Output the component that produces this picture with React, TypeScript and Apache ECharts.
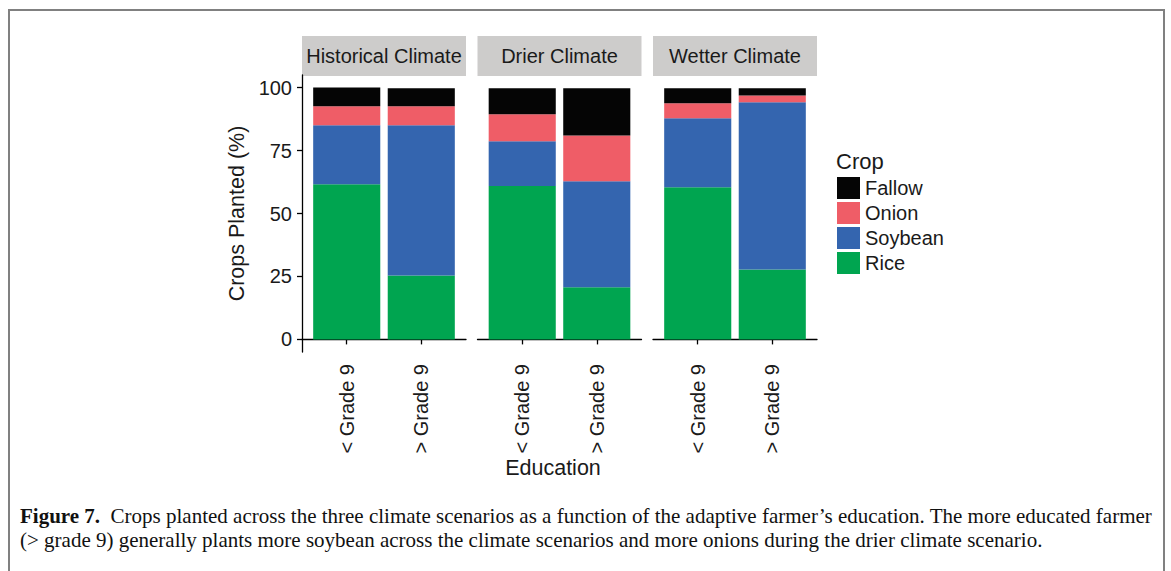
import React, { useEffect, useRef } from "react";
import * as echarts from "echarts";

// ---- data ----
const climates = ["Historical Climate", "Drier Climate", "Wetter Climate"];
const educationLevels = ["< Grade 9", "> Grade 9"];
const crops = ["Rice", "Soybean", "Onion", "Fallow"];
const legendOrder = ["Fallow", "Onion", "Soybean", "Rice"];
// values per bar: [Hist <9, Hist >9, Drier <9, Drier >9, Wetter <9, Wetter >9]
const riceValues = [61.6, 25.4, 60.9, 20.7, 60.4, 27.8];
const soybeanValues = [23.4, 59.6, 17.8, 42.1, 27.4, 66.4];
const onionValues = [7.6, 7.6, 10.7, 18.2, 6.0, 2.7];
const fallowValues = [7.4, 7.1, 10.3, 18.7, 5.9, 2.8];
const yTicks = [0, 25, 50, 75, 100];
const cropColors = ["#00a550", "#3465af", "#ef5d67", "#050505"];
const captionLine1 =
  "  Crops planted across the three climate scenarios as a function of the adaptive farmer\u2019s education. The more educated farmer";
const captionLine2 =
  "(> grade 9) generally plants more soybean across the climate scenarios and more onions during the drier climate scenario.";

// ---- layout ----
const PANEL_LEFTS = [302, 477.5, 653];
const PANEL_W = 164;
const GRID_TOP = 75;
const GRID_H = 277;
const UNIT = PANEL_W / 2.2;
const SANS = "'Liberation Sans', Arial, Helvetica, sans-serif";
const SERIF = "'Liberation Serif', 'Times New Roman', serif";
const TXT = "#1a1a1a";

export default function App() {
  const ref = useRef<HTMLDivElement>(null);
  useEffect(() => {
    if (!ref.current) return;
    const chart = echarts.init(ref.current, undefined, { renderer: "svg" });
    const cropValues = [riceValues, soybeanValues, onionValues, fallowValues];

    const grids: any[] = [];
    const xAxes: any[] = [];
    const yAxes: any[] = [];
    // outer panel grids (axis lines)
    PANEL_LEFTS.forEach((pl, p) => {
      grids.push({ left: pl, top: GRID_TOP, width: PANEL_W, height: GRID_H });
      xAxes.push({
        type: "category",
        gridIndex: p,
        data: [""],
        axisLine: { show: true, lineStyle: { color: "#000", width: 1.3 } },
        axisTick: { show: false },
        axisLabel: { show: false },
        splitLine: { show: false },
      });
      yAxes.push({
        type: "value",
        gridIndex: p,
        min: -5,
        max: 105,
        show: p === 0,
        axisLine: { show: true, lineStyle: { color: "#000", width: 1.3 } },
        axisTick: {
          show: true,
          length: 5,
          customValues: yTicks,
          lineStyle: { color: "#000", width: 1.3 },
        },
        axisLabel: {
          customValues: yTicks,
          fontSize: 20,
          color: TXT,
          fontFamily: SANS,
          margin: 10,
        },
        splitLine: { show: false },
        name: p === 0 ? "Crops Planted (%)" : "",
        nameLocation: "middle",
        nameGap: 54,
        nameTextStyle: { fontSize: 21.5, color: TXT, fontFamily: SANS },
      });
    });
    // inner bar grids
    PANEL_LEFTS.forEach((pl, p) => {
      grids.push({
        left: pl + 0.1 * UNIT,
        top: GRID_TOP,
        width: 2 * UNIT,
        height: GRID_H,
      });
      xAxes.push({
        type: "category",
        gridIndex: 3 + p,
        data: educationLevels,
        axisLine: { show: false },
        axisTick: {
          show: true,
          alignWithLabel: true,
          length: 5,
          lineStyle: { color: "#000", width: 1.3 },
        },
        axisLabel: {
          rotate: 90,
          fontSize: 20,
          color: TXT,
          fontFamily: SANS,
          margin: 12,
        },
        splitLine: { show: false },
      });
      yAxes.push({
        type: "value",
        gridIndex: 3 + p,
        min: -5,
        max: 105,
        show: false,
        splitLine: { show: false },
      });
    });

    const series: any[] = [];
    crops.forEach((crop, ci) => {
      climates.forEach((_, p) => {
        series.push({
          type: "bar",
          name: crop,
          stack: "panel" + p,
          xAxisIndex: 3 + p,
          yAxisIndex: 3 + p,
          barWidth: "90%",
          data: cropValues[ci].slice(2 * p, 2 * p + 2),
          itemStyle: { color: cropColors[ci] },
        });
      });
    });

    const graphic: any[] = [];
    climates.forEach((c, p) => {
      graphic.push({
        type: "rect",
        shape: { x: PANEL_LEFTS[p], y: 36, width: PANEL_W, height: 40 },
        style: { fill: "#cdcccb" },
      });
      graphic.push({
        type: "text",
        x: PANEL_LEFTS[p] + PANEL_W / 2,
        y: 56,
        style: {
          text: c,
          fontSize: 20,
          fontFamily: SANS,
          fill: TXT,
          align: "center",
          verticalAlign: "middle",
        },
      });
    });
    graphic.push({
      type: "text",
      x: 553,
      y: 468,
      style: {
        text: "Education",
        fontSize: 21.5,
        fontFamily: SANS,
        fill: TXT,
        align: "center",
        verticalAlign: "middle",
      },
    });
    graphic.push({
      type: "text",
      x: 836,
      y: 161,
      style: {
        text: "Crop",
        fontSize: 22,
        fontFamily: SANS,
        fill: TXT,
        verticalAlign: "middle",
      },
    });
    graphic.push({
      type: "text",
      x: 20,
      y: 516,
      style: {
        text: "{b|Figure 7.}" + captionLine1,
        fontSize: 21,
        fontFamily: SERIF,
        fill: "#111",
        verticalAlign: "middle",
        rich: {
          b: { fontWeight: "bold", fontSize: 21, fontFamily: SERIF, fill: "#111" },
        },
      },
    });
    graphic.push({
      type: "text",
      x: 20,
      y: 540,
      style: {
        text: captionLine2,
        fontSize: 21,
        fontFamily: SERIF,
        fill: "#111",
        verticalAlign: "middle",
      },
    });
    graphic.push({
      type: "rect",
      shape: { x: 9, y: 10, width: 1155, height: 700 },
      style: { fill: "none", stroke: "#808080", lineWidth: 2 },
    });

    chart.setOption({
      animation: false,
      backgroundColor: "#fff",
      grid: grids,
      xAxis: xAxes,
      yAxis: yAxes,
      series,
      legend: {
        data: legendOrder,
        orient: "vertical",
        left: 837,
        top: 177,
        itemWidth: 23,
        itemHeight: 22,
        itemGap: 3,
        icon: "rect",
        textStyle: { fontSize: 20, color: TXT, fontFamily: SANS },
        padding: 0,
      },
      graphic,
    });
    return () => chart.dispose();
  }, []);
  return (
    <div
      ref={ref}
      style={{ position: "fixed", left: 0, top: 0, width: 1171, height: 571 }}
    />
  );
}
